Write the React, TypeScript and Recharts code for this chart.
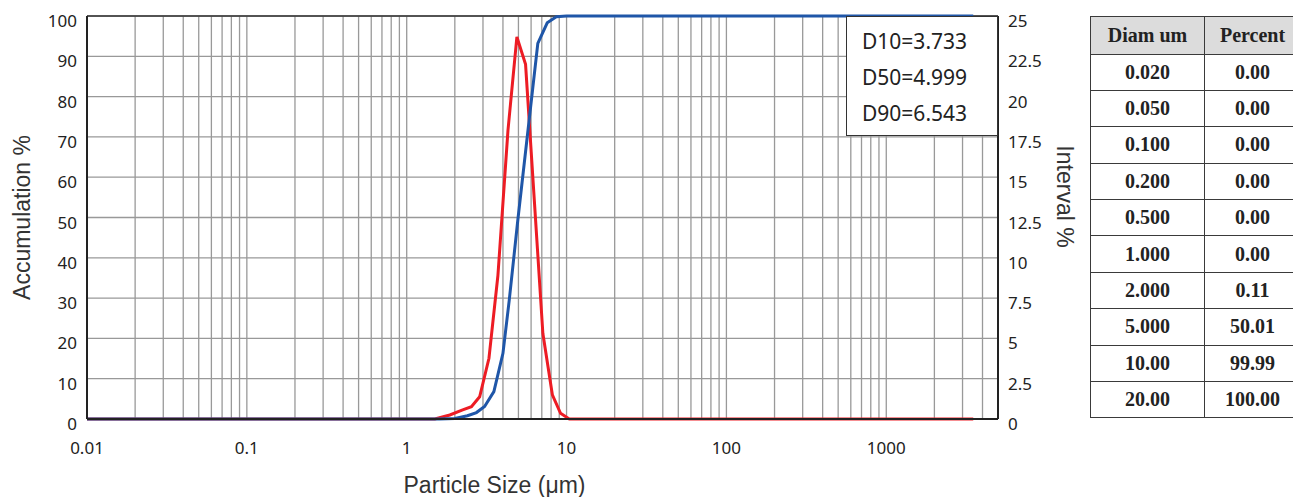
import { LineChart, Line, XAxis, YAxis, CartesianGrid, ReferenceLine, Label } from "recharts";

// cumulative curve (left axis, %)
const cumSizes = [0.01, 1.6, 2.0, 2.4, 2.73, 3.07, 3.51, 4.0, 4.38, 4.96, 6.61, 7.57, 8.63, 10.0, 3500];
const cumValues = [0, 0, 0.11, 0.8, 1.6, 3.1, 6.8, 16.3, 29.5, 49.5, 93.2, 98.3, 99.8, 100, 100];

// interval curve (right axis, %)
const intSizes = [0.01, 1.5, 1.86, 2.24, 2.54, 2.86, 3.27, 3.72, 4.3, 4.89, 5.54, 6.31, 7.11, 8.15, 9.17, 10.4, 3500];
const intValues = [0, 0, 0.25, 0.56, 0.76, 1.38, 3.77, 8.9, 17.9, 23.7, 22.0, 13.3, 5.3, 1.5, 0.35, 0, 0];

const xTicks = [0.01, 0.1, 1, 10, 100, 1000];
const leftTicks = [0, 10, 20, 30, 40, 50, 60, 70, 80, 90, 100];
const rightTicks = [0, 2.5, 5, 7.5, 10, 12.5, 15, 17.5, 20, 22.5, 25];

const stats = ["D10=3.733", "D50=4.999", "D90=6.543"];

const tableHead = ["Diam um", "Percent"];
const tableDiam = ["0.020", "0.050", "0.100", "0.200", "0.500", "1.000", "2.000", "5.000", "10.00", "20.00"];
const tablePct = ["0.00", "0.00", "0.00", "0.00", "0.00", "0.00", "0.11", "50.01", "99.99", "100.00"];

const cumRows = cumSizes.map((s, i) => ({ size: s, v: cumValues[i] }));
const intRows = intSizes.map((s, i) => ({ size: s, v: intValues[i] }));

// log grid lines: 2..9 inside each decade, then 2000..4000
const gridSizes: number[] = [];
[0.01, 0.1, 1, 10, 100].forEach((d) => {
  for (let k = 2; k <= 10; k++) gridSizes.push(+(d * k).toPrecision(3));
});
gridSizes.push(2000, 3000, 4000);

const gridColor = "#999";
const tickStyle = { fill: "#222", fontSize: 17, fontFamily: "Noto Sans" };
const titleProps = { fill: "#333", fontSize: 23, fontFamily: "Liberation Sans" };

export default function App() {
  return (
    <div style={{ position: "absolute", left: 0, top: 0, width: 1293, height: 497, background: "#fff", overflow: "hidden" }}>
      <LineChart width={1090} height={497} margin={{ top: 16, right: 12, bottom: 0, left: 5 }}>
        <CartesianGrid vertical={false} stroke={gridColor} strokeWidth={1.3} />
        <XAxis
          dataKey="size"
          type="number"
          scale="log"
          domain={[0.01, 5000]}
          ticks={xTicks}
          allowDataOverflow
          height={78}
          tickLine={false}
          tickMargin={17}
          tick={tickStyle}
          axisLine={{ stroke: "#222", strokeWidth: 2 }}
        >
          <Label value="Particle Size (μm)" position="insideBottom" offset={4} dx={-48} {...titleProps} />
        </XAxis>
        <YAxis
          domain={[0, 100]}
          ticks={leftTicks}
          width={82}
          tickLine={false}
          tickMargin={4}
          tick={{ ...tickStyle, dy: 5 }}
          axisLine={{ stroke: "#222", strokeWidth: 2 }}
        >
          <Label value="Accumulation %" angle={-90} position="insideLeft" offset={17} style={{ textAnchor: "middle" }} {...titleProps} />
        </YAxis>
        <YAxis
          yAxisId="r"
          orientation="right"
          domain={[0, 25]}
          ticks={rightTicks}
          width={80}
          tickLine={false}
          tickMargin={4}
          tick={{ ...tickStyle, dy: 5 }}
          axisLine={{ stroke: "#222", strokeWidth: 2 }}
        >
          <Label value="Interval %" angle={90} position="insideRight" offset={13} dy={-21} style={{ textAnchor: "middle" }} {...titleProps} />
        </YAxis>
        {gridSizes.map((g) => (
          <ReferenceLine key={g} x={g} stroke={gridColor} strokeWidth={1.3} />
        ))}
        <ReferenceLine y={100} stroke="#333" strokeWidth={1.5} />
        <Line data={intRows} yAxisId="r" dataKey="v" stroke="#ed1c24" strokeWidth={3} dot={false} isAnimationActive={false} />
        <Line data={cumRows} dataKey="v" stroke="#1f56a8" strokeWidth={3} dot={false} isAnimationActive={false} />
      </LineChart>

      <div
        style={{
          position: "absolute",
          left: 846,
          top: 16,
          width: 152,
          height: 120,
          boxSizing: "border-box",
          border: "1.5px solid #333",
          background: "#fff",
          paddingTop: 6,
          paddingLeft: 15,
          fontFamily: "Noto Sans",
          fontSize: 21,
          lineHeight: "36px",
          color: "#222",
        }}
      >
        {stats.map((s) => (
          <div key={s}>{s}</div>
        ))}
      </div>

      <div
        style={{
          position: "absolute",
          left: 1090,
          top: 16,
          display: "grid",
          gridTemplateColumns: "114px 96px",
          gridTemplateRows: "37.5px repeat(10, 36.4px)",
          borderTop: "1.5px solid #3a3a3a",
          borderLeft: "1.5px solid #3a3a3a",
          fontFamily: "Liberation Serif",
          fontWeight: "bold",
          fontSize: 20,
          color: "#222",
        }}
      >
        {tableHead.map((h) => (
          <div key={h} style={{ ...cell, background: "#dcdcdc" }}>{h}</div>
        ))}
        {tableDiam.map((d, i) => [
          <div key={"d" + i} style={cell}>{d}</div>,
          <div key={"p" + i} style={cell}>{tablePct[i]}</div>,
        ])}
      </div>
    </div>
  );
}

const cell: any = {
  borderRight: "1.5px solid #3a3a3a",
  borderBottom: "1.5px solid #3a3a3a",
  display: "flex",
  alignItems: "center",
  justifyContent: "center",
  boxSizing: "border-box",
};
